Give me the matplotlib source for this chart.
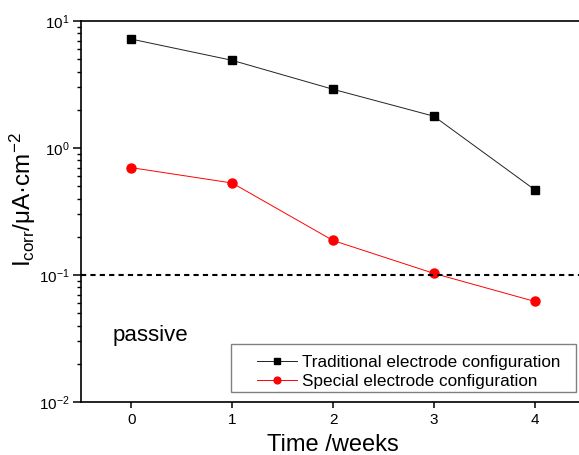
import matplotlib
matplotlib.use("Agg")
import matplotlib.pyplot as plt
from matplotlib.ticker import LogLocator, NullFormatter
from matplotlib.patches import Rectangle

plt.rcParams['font.family'] = ['Liberation Sans', 'DejaVu Sans']
plt.rcParams['mathtext.fontset'] = 'custom'
plt.rcParams['mathtext.rm'] = 'Liberation Sans'
plt.rcParams['mathtext.it'] = 'Liberation Sans'

weeks = [0, 1, 2, 3, 4]
traditional = [7.2, 4.9, 2.9, 1.78, 0.47]
special = [0.70, 0.53, 0.187, 0.103, 0.062]
passive_limit = 0.1
x_ticks = [0, 1, 2, 3, 4]

W, H = 579, 455
fig = plt.figure(figsize=(W / 100, H / 100), dpi=100)
ax = fig.add_axes([81/W, 1 - 402/H, (585 - 81)/W, (402 - 21)/H])

ax.plot(weeks, traditional, color='#222222', lw=0.7, marker='s', ms=6,
        mfc='black', mec='black', label='Traditional electrode configuration')
ax.plot(weeks, special, color='red', lw=0.7, marker='o', ms=6.5,
        label='Special electrode configuration')
ax.axhline(passive_limit, color='black', ls=(0, (2.5, 2)), lw=1.5)

ax.set_yscale('log')
ax.set_ylim(0.01, 10)
ax.set_xlim(-0.5, 4.5)
ax.set_xticks(x_ticks)
ax.yaxis.set_minor_locator(LogLocator(base=10, subs=range(2, 10)))
ax.yaxis.set_minor_formatter(NullFormatter())
ax.tick_params(axis='both', which='major', direction='out', width=1.1, labelsize=11)
ax.tick_params(axis='y', which='major', length=6, pad=2)
ax.tick_params(axis='x', which='major', length=4, pad=4)
ax.tick_params(axis='y', which='minor', direction='out', length=3, width=1)
for s in ['left', 'top', 'bottom']:
    ax.spines[s].set_linewidth(1.2)
ax.spines['right'].set_visible(False)

ax.set_xlabel('Time /weeks', fontsize=17, labelpad=5)
ax.set_ylabel(r'I$_{\rm corr}$/μA·cm$^{-2}$', fontsize=17.5)
ax.yaxis.set_label_coords(-0.085, (402 - 200) / 381)

ax.text(-0.183, 0.0302, 'passive', fontsize=16, va='baseline', ha='left')

# legend frame (wider than content, as in the reference)
frame = Rectangle((231 / W, 1 - 392 / H), 345 / W, 48 / H, transform=fig.transFigure,
                  facecolor='white', edgecolor='#808080', lw=1.0, zorder=4)
ax.add_patch(frame)
frame.set_clip_on(False)

leg = ax.legend(loc='upper left', bbox_to_anchor=(257 / W, 1 - 355 / H),
                bbox_transform=fig.transFigure,
                fontsize=12.3, frameon=False,
                handlelength=2.35, borderpad=0, labelspacing=0.25, handletextpad=0.3,
                markerscale=0.75, borderaxespad=0)
leg.set_zorder(5)

fig.savefig('out.png', dpi=100)
